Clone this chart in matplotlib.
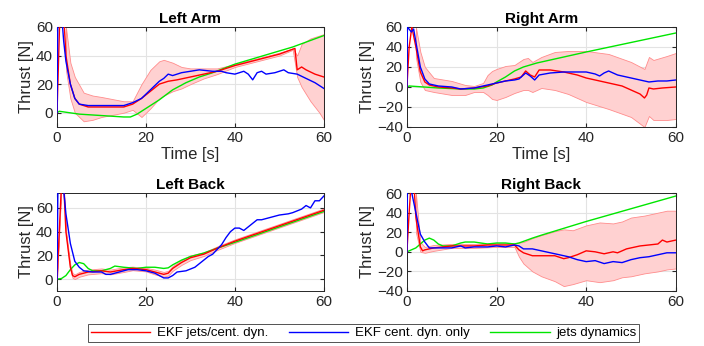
import matplotlib.pyplot as plt

plt.rcParams['font.family'] = ['Liberation Sans', 'DejaVu Sans']

# ---------------- Left Arm ----------------
la_t_red = [0, 0.7, 1.4, 2, 3, 4, 5, 7, 10, 15, 17, 19, 21, 23, 25, 27, 30, 33, 36, 40, 45, 50, 53.5, 54, 55, 56, 58, 60]
la_red = [0, 75, 75, 40, 20, 10, 6, 4, 4, 4, 6, 10, 15, 20, 22, 23, 25, 27, 29, 33, 37, 41, 45, 30, 32, 30, 27, 25]
la_t_band = [2, 3, 4, 6, 8, 10, 15, 17, 19, 21, 23, 24, 26, 28, 30, 33, 36, 40, 45, 50, 53, 54, 55, 57, 59, 60]
la_hi = [60, 35, 25, 14, 12, 11, 8, 8, 20, 30, 36, 37, 35, 32, 31, 31, 31, 34, 38, 42, 45, 40, 48, 52, 54, 55]
la_lo = [30, 10, 0, -6, -5, -3, 0, 2, -3, 3, 10, 12, 15, 17, 20, 24, 27, 32, 36, 40, 44, 25, 18, 8, 0, -5]
la_t_blue = [0, 0.2, 1.0, 1.5, 2, 3, 4, 5, 7, 10, 12, 15, 17, 19, 21, 23, 24, 25, 26, 28, 30, 32, 35, 37, 38, 40, 42, 43, 44, 45, 46, 47, 49, 51, 52, 54, 56, 58, 60]
la_blue = [0, 80, 70, 50, 36, 20, 10, 6, 5, 5, 5, 5, 7, 10, 16, 22, 24, 27, 26, 28, 29, 30, 29, 29, 28, 27, 29, 27, 23, 28, 29, 27, 28, 30, 28, 27, 24, 21, 17]
la_t_green = [0, 0.5, 5, 10, 15, 16.5, 18, 20, 23, 26, 29, 32, 35, 40, 53, 60]
la_green = [0, 1, -1, -2, -3, -3, -1, 3, 9, 16, 21, 25, 28, 34, 46, 54]

# ---------------- Right Arm ----------------
ra_t_red = [0, 0.5, 1.1, 2, 3, 4, 5, 7, 10, 12, 15, 18, 20, 22, 24, 25.5, 26.5, 27.5, 28.5, 29.5, 32, 35, 38, 40, 43, 46, 48, 50, 52, 53, 53.5, 54, 55, 57, 60]
ra_red = [0, 40, 60, 40, 15, 5, 2, 0, -1, -2, -1, 1, 4, 6, 8, 10, 16, 12, 10, 17, 17, 15, 12, 9, 6, 3, 1, -3, -7, -11, -8, -1, -2, -1, 0]
ra_t_band = [2, 3, 4, 6, 10, 13, 15, 17, 18, 19, 20, 22, 24, 26, 27, 28, 30, 33, 36, 40, 45, 50, 53, 54, 55, 58, 60]
ra_hi = [60, 35, 20, 9, 6, 2, 1, 4, 12, 16, 18, 21, 22, 28, 29, 25, 30, 35, 36, 36, 33, 25, 18, 30, 27, 31, 34]
ra_lo = [30, 5, -3, -5, -8, -8, -5, -5, -8, -12, -13, -10, -6, -3, -3, -5, -1, -3, -7, -15, -22, -30, -40, -29, -33, -33, -32]
ra_t_blue = [0, 0.1, 1.0, 1.5, 2, 3, 4, 5, 7, 10, 12, 15, 18, 20, 22, 24, 25, 26.5, 27.5, 28.5, 29.5, 32, 35, 38, 40, 42, 43, 44, 45, 47, 50, 52, 54, 56, 58, 60]
ra_blue = [0, 60, 55, 58, 45, 20, 8, 3, 1, 0, -2, -1, 2, 4, 6, 7, 8, 14, 11, 7, 12, 14, 15, 15, 15, 13, 11, 14, 16, 12, 9, 7, 5, 6, 6, 7]
ra_t_green = [0, 0.5, 7, 12, 15, 17, 19, 20, 22, 24, 26, 29, 32, 35, 38, 40, 60]
ra_green = [0, 1, -1, -2, -2, -1, 2, 5, 10, 16, 20, 24, 27, 30, 33, 35, 54]

# ---------------- Left Back ----------------
lb_t_red = [0, 0.5, 1.0, 1.5, 2, 3, 3.5, 4, 5, 7, 10, 12, 15, 17, 20, 22, 24, 25, 26, 28, 30, 33, 36, 40, 50, 60]
lb_red = [0, 40, 80, 80, 40, 10, 3, 2, 4, 6, 7, 6, 8, 9, 8, 6, 4, 5, 9, 14, 18, 21, 26, 32, 45, 58]
lb_hi = [0, 41, 81, 81, 42, 12, 5, 4, 6, 8, 9, 8, 10, 10.5, 9.5, 8, 6, 7, 11, 16, 20, 22.5, 27.5, 33.5, 46.5, 59.5]
lb_lo = [0, 39, 79, 79, 38, 8, 1, 0, 2, 4, 5, 4, 6, 7.5, 6.5, 4, 2, 3, 7, 12, 16, 19.5, 24.5, 30.5, 43.5, 56.5]
lb_t_blue = [0, 0.2, 1.5, 2, 3, 4, 5, 6, 8, 10, 11, 12, 14, 16, 18, 20, 22, 24, 25, 26, 27, 29, 31, 33, 34, 35, 36, 37, 38, 39, 40, 41, 42, 43, 44, 45, 46, 48, 50, 52, 53, 55, 56, 57, 58, 59, 60]
lb_blue = [0, 80, 75, 55, 30, 15, 10, 7, 6, 6, 4, 4, 6, 8, 8, 7, 5, 1, 1, 3, 6, 7, 10, 16, 19, 21, 25, 29, 35, 40, 43, 43, 41, 44, 47, 50, 50, 52, 54, 55, 56, 59, 62, 60, 66, 66, 70]
lb_t_green = [0, 1, 2, 3, 4, 5, 6, 7, 8, 10, 12, 13, 15, 18, 20, 22, 24, 25, 26, 28, 30, 33, 36, 40, 60]
lb_green = [0, 0.5, 3, 8, 12, 14, 13, 9, 7, 7, 9, 11, 10, 9, 10, 10, 9, 9.5, 12, 16, 19, 22, 26, 31, 57]

# ---------------- Right Back ----------------
rb_t_red = [0, 0.5, 1.0, 1.5, 2, 3, 3.5, 4, 6, 8, 10, 12, 15, 18, 20, 22, 24, 25, 26, 28, 30, 33, 35, 36, 38, 40, 42, 44, 46, 47, 49, 52, 54, 56, 57, 58, 60]
rb_red = [0, 40, 75, 75, 35, 5, 1, 2, 4, 5, 6, 6, 6, 7, 7, 7, 7, 2, -1, -4, -4, -4, -7, -6, -3, 1, 0, -2, 0, -1, 3, 6, 7, 8, 12, 10, 12]
rb_t_band = [2, 3, 4, 6, 10, 15, 20, 24, 25, 26, 28, 30, 33, 35, 37, 40, 43, 46, 48, 50, 53, 56, 58, 60]
rb_hi = [60, 10, 5, 7, 8, 8, 9, 9, 9.5, 10, 14, 17, 21, 23, 22, 27, 30, 29, 31, 35, 37, 40, 42, 42]
rb_lo = [20, 0, -1, 1, 4, 4, 5, 5, -5, -12, -20, -25, -30, -35, -33, -29, -31, -29, -26, -25, -22, -20, -18, -17]
rb_t_blue = [0, 0.1, 1, 2, 3, 4, 5, 6, 8, 10, 12, 13, 15, 18, 20, 22, 24, 25, 26, 28, 30, 33, 36, 38, 40, 42, 44, 46, 48, 50, 52, 54, 56, 58, 60]
rb_blue = [0, 70, 62, 40, 18, 10, 4, 4, 4, 4, 6, 4, 5, 5, 6, 5, 7, 6, 3, 3, 1, -2, -5, -8, -10, -9, -12, -10, -11, -8, -6, -5, -3, -1, -1]
rb_t_green = [0, 2, 3, 4, 5, 6, 7, 8, 10, 12, 13, 15, 18, 20, 22, 24, 25, 28, 30, 35, 40, 60]
rb_green = [0, 4, 8, 12, 14, 12, 8, 6, 6, 9, 10, 10, 8, 9, 9, 8, 9, 14, 17, 24, 31, 57]

titles = ['Left Arm', 'Right Arm', 'Left Back', 'Right Back']
ylims = [(-10, 60), (-40, 60), (-10, 72.5), (-40, 60)]
legend_labels = ['EKF jets/cent. dyn.', 'EKF cent. dyn. only', 'jets dynamics']

panels = [
    (la_t_red, la_red, la_t_band, la_hi, la_lo, la_t_blue, la_blue, la_t_green, la_green),
    (ra_t_red, ra_red, ra_t_band, ra_hi, ra_lo, ra_t_blue, ra_blue, ra_t_green, ra_green),
    (lb_t_red, lb_red, lb_t_red, lb_hi, lb_lo, lb_t_blue, lb_blue, lb_t_green, lb_green),
    (rb_t_red, rb_red, rb_t_band, rb_hi, rb_lo, rb_t_blue, rb_blue, rb_t_green, rb_green),
]

positions = [
    [0.081, 0.633, 0.379, 0.289],
    [0.578, 0.633, 0.382, 0.289],
    [0.081, 0.159, 0.379, 0.283],
    [0.578, 0.159, 0.382, 0.283],
]

fig = plt.figure(figsize=(7.04, 3.46), dpi=100)
ax_col = '#262626'
handles = None

for i, p in enumerate(panels):
    t_r, red, t_b, hi, lo, t_bl, blue, t_g, green = p
    ax = fig.add_axes(positions[i])
    ax.fill_between(t_b, lo, hi, color=(1, 0.82, 0.82), edgecolor=(1, 0.55, 0.55), linewidth=0.6, zorder=1)
    l1, = ax.plot(t_r, red, color='red', linewidth=1.0, zorder=3)
    l2, = ax.plot(t_bl, blue, color='blue', linewidth=1.0, zorder=4)
    l3, = ax.plot(t_g, green, color=(0, 0.9, 0), linewidth=1.0, zorder=2)
    handles = [l1, l2, l3]
    ax.set_xlim(0, 60)
    ax.set_ylim(*ylims[i])
    ax.set_xticks([0, 20, 40, 60])
    ax.set_yticks(range(-40, 61, 20))
    ax.set_ylim(*ylims[i])
    ax.grid(True, color='#e3e3e3', linewidth=0.8, zorder=0)
    ax.set_axisbelow(True)
    ax.tick_params(direction='in', length=3, labelsize=11, colors=ax_col, top=True, right=True, pad=3)
    for s in ax.spines.values():
        s.set_color(ax_col)
        s.set_linewidth(0.7)
    ax.set_title(titles[i], fontsize=11, fontweight='bold', pad=3)
    ax.set_ylabel('Thrust [N]', fontsize=12, color=ax_col, labelpad=1)
    if i < 2:
        ax.set_xlabel('Time [s]', fontsize=12, color=ax_col, labelpad=1)

leg = fig.legend(handles, legend_labels, loc='lower left', ncol=3, mode='expand',
                 bbox_to_anchor=(0.125, 0.012, 0.783, 0.057), fontsize=9.5,
                 frameon=True, fancybox=False, borderaxespad=0, handlelength=4.5,
                 borderpad=0.2, handletextpad=0.5)
leg.get_frame().set_edgecolor(ax_col)
leg.get_frame().set_linewidth(0.7)

fig.savefig('out.png', dpi=100)
